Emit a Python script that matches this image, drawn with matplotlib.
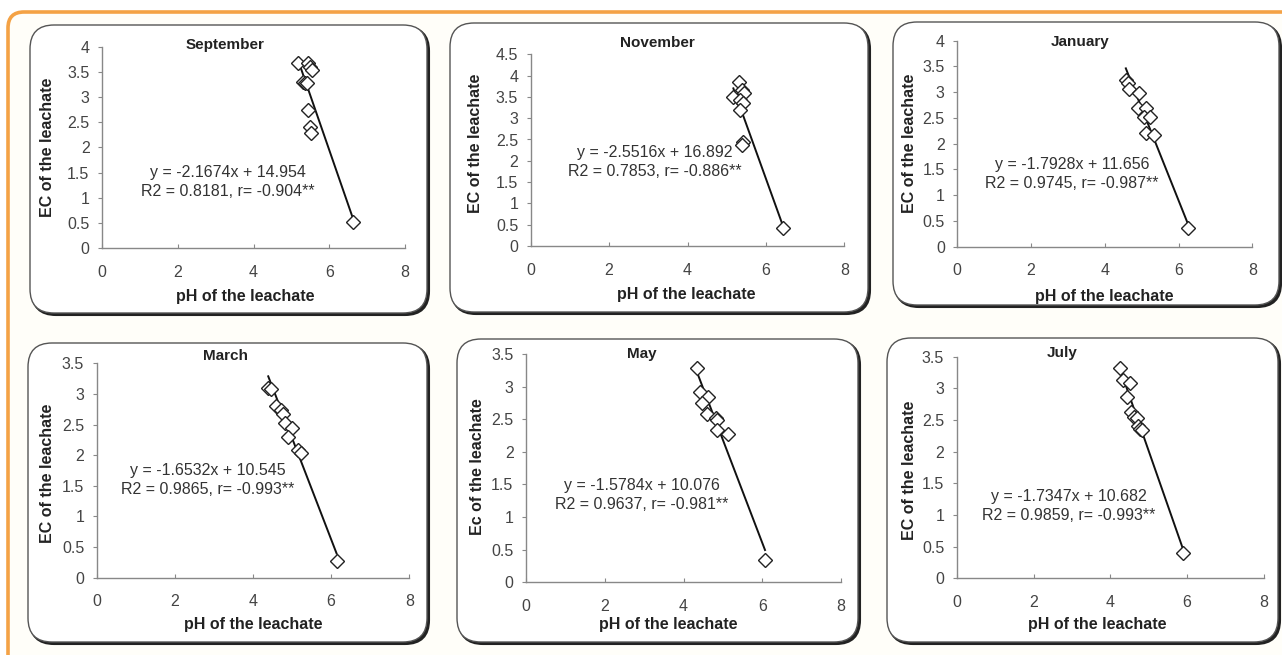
import matplotlib
matplotlib.use("Agg")
import matplotlib.pyplot as plt
from matplotlib.patches import FancyBboxPatch
from matplotlib.ticker import FuncFormatter, MultipleLocator
import numpy as np

plt.rcParams['font.family'] = ['Liberation Sans', 'DejaVu Sans']

# Data (pH vs EC of the leachate)
months = ["September", "November", "January", "March", "May", "July"]

sep_ph = [5.18, 5.44, 5.49, 5.54, 5.30, 5.35, 5.41, 5.44, 5.49, 5.51, 6.62]
sep_ec = [3.67, 3.68, 3.60, 3.54, 3.30, 3.27, 3.28, 2.74, 2.40, 2.29, 0.52]

nov_ph = [5.31, 5.38, 5.44, 5.17, 5.34, 5.42, 5.34, 5.42, 5.38, 6.44]
nov_ec = [3.86, 3.66, 3.58, 3.49, 3.43, 3.36, 3.19, 2.45, 2.37, 0.42]

jan_ph = [4.57, 4.62, 4.66, 4.93, 4.89, 5.11, 5.07, 5.22, 5.13, 5.33, 6.26]
jan_ec = [3.24, 3.18, 3.06, 2.98, 2.70, 2.70, 2.51, 2.52, 2.21, 2.17, 0.36]

mar_ph = [4.39, 4.45, 4.59, 4.71, 4.77, 4.82, 4.99, 4.90, 5.14, 5.24, 6.14]
mar_ec = [3.09, 3.08, 2.80, 2.74, 2.67, 2.52, 2.44, 2.30, 2.08, 2.03, 0.28]

may_ph = [4.35, 4.42, 4.63, 4.46, 4.59, 4.82, 4.84, 4.86, 5.13, 6.07]
may_ec = [3.29, 2.92, 2.84, 2.75, 2.58, 2.52, 2.49, 2.34, 2.28, 0.34]

jul_ph = [4.25, 4.32, 4.51, 4.43, 4.53, 4.62, 4.69, 4.73, 4.76, 4.82, 5.90]
jul_ec = [3.32, 3.13, 3.08, 2.87, 2.62, 2.55, 2.53, 2.41, 2.36, 2.34, 0.40]

slopes = [-2.1674, -2.5516, -1.7928, -1.6532, -1.5784, -1.7347]
intercepts = [14.954, 16.892, 11.656, 10.545, 10.076, 10.682]
r2_vals = ["0.8181", "0.7853", "0.9745", "0.9865", "0.9637", "0.9859"]
r_vals = ["-0.904", "-0.886", "-0.987", "-0.993", "-0.981", "-0.993"]
y_max = [4, 4.5, 4, 3.5, 3.5, 3.5]
y_labels = ["EC of the leachate"] * 4 + ["Ec of the leachate", "EC of the leachate"]

all_ph = [sep_ph, nov_ph, jan_ph, mar_ph, may_ph, jul_ph]
all_ec = [sep_ec, nov_ec, jan_ec, mar_ec, may_ec, jul_ec]

W, H = 1282, 655

# layout in pixels (left, right, top, bottom) for the plot areas
ax_px = [(102, 405, 46.7, 248.3), (530.7, 844.3, 54.3, 246), (957.3, 1252.3, 40.7, 246.7),
         (96.7, 409.3, 363.3, 577.7), (526, 841, 354, 582.3), (956.7, 1264, 356.7, 578.3)]
box_px = [(30, 427, 25, 313), (450, 868, 23, 312), (893, 1279, 22, 305),
          (28, 427, 343, 642), (457, 858, 339, 642), (887, 1278, 338, 642)]
title_px = [(225, 45), (657, 43), (1080, 42), (225, 356), (642, 354), (1062, 353)]
eq_px = [(228, 182), (655, 162), (1072, 174), (208, 480), (642, 495), (1069, 506)]
xlab_px = [(245, 297), (686, 295), (1104, 296), (253, 624), (668, 624), (1097, 625)]
ylab_px = [(48, 147), (476, 143), (910, 143), (48, 473), (477, 467), (910, 470)]

fig = plt.figure(figsize=(W / 100, H / 100), dpi=100)
fig.patch.set_facecolor('white')

# background layer in pixel coords
bg = fig.add_axes([0, 0, 1, 1])
bg.set_xlim(0, W)
bg.set_ylim(H, 0)
bg.axis('off')

frame = FancyBboxPatch((8, 12), W + 30, H + 20, boxstyle="round,pad=0,rounding_size=16",
                       facecolor='#fffef9', edgecolor='#f4a245', linewidth=2.6)
bg.add_patch(frame)

for (l, r, t, b) in box_px:
    shadow = FancyBboxPatch((l + 2, t + 2), r - l, b - t, boxstyle="round,pad=0,rounding_size=24",
                            facecolor='#222222', edgecolor='#222222', linewidth=1.5)
    bg.add_patch(shadow)
    box = FancyBboxPatch((l, t), r - l, b - t, boxstyle="round,pad=0,rounding_size=24",
                         facecolor='white', edgecolor='#555555', linewidth=1.0)
    bg.add_patch(box)

fmt = FuncFormatter(lambda v, p: f"{v:g}")

for i, month in enumerate(months):
    l, r, t, b = ax_px[i]
    ax = fig.add_axes([l / W, (H - b) / H, (r - l) / W, (b - t) / H])
    ax.set_facecolor('none')
    ph = np.array(all_ph[i])
    ec = np.array(all_ec[i])

    ax.plot(ph, ec, linestyle='none', marker='D', markersize=7.5,
            markerfacecolor='white', markeredgecolor='#222222', markeredgewidth=1.0, zorder=3)
    xs = np.array([ph.min(), ph.max()])
    ax.plot(xs, slopes[i] * xs + intercepts[i], color='#111111', linewidth=1.4, zorder=2)

    ax.set_xlim(0, 8)
    ax.set_ylim(0, y_max[i])
    ax.xaxis.set_major_locator(MultipleLocator(2))
    ax.yaxis.set_major_locator(MultipleLocator(0.5))
    ax.yaxis.set_major_formatter(fmt)
    ax.xaxis.set_major_formatter(fmt)
    for s in ['top', 'right']:
        ax.spines[s].set_visible(False)
    for s in ['left', 'bottom']:
        ax.spines[s].set_color('#888888')
        ax.spines[s].set_linewidth(1.0)
    ax.tick_params(axis='x', direction='in', length=3, color='#888888',
                   labelsize=11.5, labelcolor='#444444', pad=12)
    ax.tick_params(axis='y', direction='out', length=3, color='#888888',
                   labelsize=11.5, labelcolor='#444444', pad=6)

    tx, ty = title_px[i]
    bg.text(tx, ty, month, ha='center', va='center', fontsize=11, fontweight='bold', color='#222222')
    ex, ey = eq_px[i]
    eq = f"y = {slopes[i]}x + {intercepts[i]:.3f}\nR2 = {r2_vals[i]}, r= {r_vals[i]}**"
    bg.text(ex, ey, eq, ha='center', va='center', fontsize=11.5, color='#333333',
            linespacing=1.3, zorder=5)
    lx, ly = xlab_px[i]
    bg.text(lx, ly, "pH of the leachate", ha='center', va='center', fontsize=11.5,
            fontweight='bold', color='#222222')
    yx, yy = ylab_px[i]
    bg.text(yx, yy, y_labels[i], ha='center', va='center', rotation=90, fontsize=11.5,
            fontweight='bold', color='#222222')

fig.savefig("out.png", dpi=100)
